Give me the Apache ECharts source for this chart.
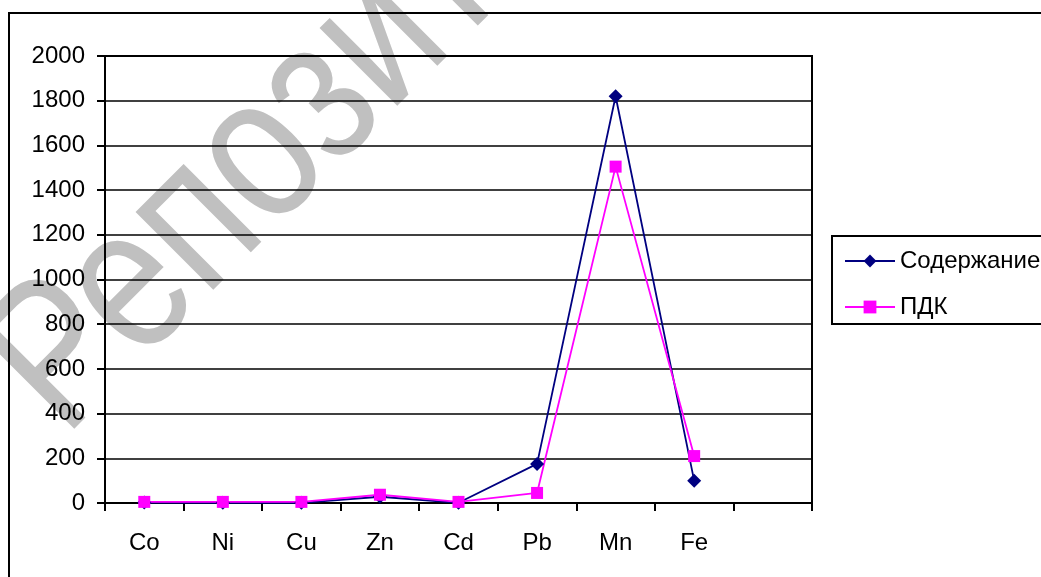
<!DOCTYPE html>
<html>
<head>
<meta charset="utf-8">
<script src="https://cdn.jsdelivr.net/npm/echarts@6/dist/echarts.min.js"></script>
<style>
  html, body { margin: 0; padding: 0; background: #fff; }
  #chart { width: 1041px; height: 577px; }
</style>
</head>
<body>
<div id="chart"></div>
<script>
const categories = ['Co', 'Ni', 'Cu', 'Zn', 'Cd', 'Pb', 'Mn', 'Fe', ''];
const contentValues = [2, 1, 1, 28, 1, 175, 1820, 100];
const pdkValues = [5, 5, 5, 37, 5, 45, 1505, 210];
const seriesNames = ['Содержание', 'ПДК'];
const yTicks = { min: 0, max: 2000, interval: 200 };
const watermarkText = 'Репозиторий';

const FONT = 'Liberation Sans, Arial, sans-serif';
const chart = echarts.init(document.getElementById('chart'), null, { renderer: 'canvas' });

chart.setOption({
  backgroundColor: '#ffffff',
  animation: false,
  textStyle: { fontFamily: FONT },
  graphic: {
    elements: [
      {
        type: 'text',
        x: 24, y: 398,
        rotation: Math.PI / 4,
        scaleX: 0.81,
        z: -20,
        silent: true,
        style: {
          text: watermarkText,
          fontSize: 208,
          fontFamily: FONT,
          fill: '#c0c0c0',
          align: 'left',
          verticalAlign: 'middle'
        }
      },
      {
        type: 'rect',
        z: -10,
        silent: true,
        shape: { x: 9, y: 13, width: 1200, height: 800 },
        style: { fill: null, stroke: '#000', lineWidth: 2 }
      }
    ]
  },
  grid: {
    left: 105, top: 56, right: 229, bottom: 74,
    show: true, borderColor: '#000', borderWidth: 2, backgroundColor: 'transparent'
  },
  legend: {
    orient: 'vertical',
    left: 832, top: 236,
    padding: [13, 40, 5, 12],
    itemGap: 22,
    itemWidth: 50, itemHeight: 16,
    borderColor: '#000', borderWidth: 2,
    backgroundColor: '#fff',
    textStyle: { fontSize: 24, color: '#000', fontFamily: FONT, lineHeight: 24 },
    data: seriesNames
  },
  xAxis: {
    type: 'category',
    data: categories,
    boundaryGap: true,
    axisLine: { show: true, lineStyle: { color: '#000', width: 2 } },
    axisTick: { show: true, length: 8, lineStyle: { color: '#000', width: 2 } },
    axisLabel: { fontSize: 24, color: '#000', margin: 28, fontFamily: FONT, interval: 0 },
    splitLine: { show: false }
  },
  yAxis: {
    type: 'value',
    min: yTicks.min, max: yTicks.max, interval: yTicks.interval,
    axisLine: { show: true, lineStyle: { color: '#000', width: 2 } },
    axisTick: { show: true, length: 8, lineStyle: { color: '#000', width: 2 } },
    axisLabel: {
      fontSize: 24, color: '#000', margin: 20, fontFamily: FONT,
      formatter: function (v) { return String(v); }
    },
    splitLine: { show: true, lineStyle: { color: '#000', width: 1.5 } }
  },
  series: [
    {
      name: seriesNames[0],
      type: 'line',
      data: contentValues,
      symbol: 'diamond',
      symbolSize: 14,
      showAllSymbol: true,
      color: '#000080',
      lineStyle: { color: '#000080', width: 1.8 },
      itemStyle: { color: '#000080' }
    },
    {
      name: seriesNames[1],
      type: 'line',
      data: pdkValues,
      symbol: 'rect',
      symbolSize: 12,
      showAllSymbol: true,
      color: '#ff00ff',
      lineStyle: { color: '#ff00ff', width: 1.8 },
      itemStyle: { color: '#ff00ff' }
    }
  ]
});
</script>
</body>
</html>
